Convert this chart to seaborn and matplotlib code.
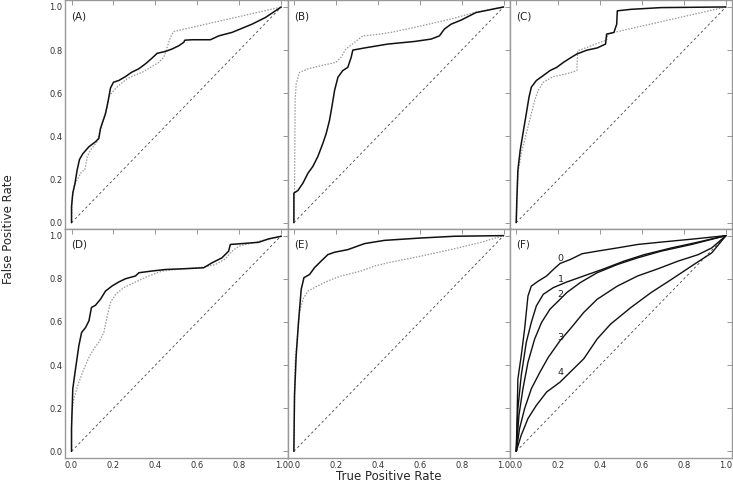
import numpy as np
import pandas as pd
import seaborn as sns
import matplotlib.pyplot as plt

# ---- curve data (x = TPR axis, y = FPR axis) ----
a_black_x = [0, 0, 0.006, 0.016, 0.027, 0.038, 0.054, 0.083, 0.114, 0.13, 0.138, 0.146, 0.162, 0.175, 0.186,
             0.2, 0.225, 0.257, 0.286, 0.32, 0.352, 0.384, 0.408, 0.448, 0.479, 0.511, 0.535, 0.54, 0.575,
             0.662, 0.702, 0.765, 0.86, 0.924, 1.0]
a_black_y = [0, 0.075, 0.137, 0.18, 0.245, 0.293, 0.32, 0.352, 0.375, 0.39, 0.436, 0.46, 0.505, 0.567, 0.625,
             0.651, 0.659, 0.677, 0.697, 0.713, 0.736, 0.763, 0.785, 0.794, 0.805, 0.82, 0.836, 0.846, 0.848,
             0.848, 0.866, 0.882, 0.92, 0.951, 1.0]
a_gray_x = [0, 0.003, 0.011, 0.027, 0.048, 0.063, 0.075, 0.09, 0.122, 0.146, 0.17, 0.178, 0.194, 0.225, 0.265,
            0.297, 0.337, 0.376, 0.416, 0.44, 0.456, 0.471, 0.487, 1.0]
a_gray_y = [0, 0.106, 0.167, 0.198, 0.237, 0.244, 0.306, 0.336, 0.375, 0.46, 0.536, 0.582, 0.605, 0.636, 0.667,
            0.682, 0.697, 0.72, 0.743, 0.767, 0.813, 0.859, 0.886, 1.0]

b_black_x = [0, 0, 0.019, 0.043, 0.067, 0.09, 0.114, 0.138, 0.154, 0.17, 0.181, 0.194, 0.21, 0.233, 0.257,
             0.273, 0.281, 0.337, 0.448, 0.575, 0.654, 0.694, 0.717, 0.749, 0.797, 0.868, 0.924, 1.0]
b_black_y = [0, 0.137, 0.149, 0.183, 0.229, 0.26, 0.306, 0.367, 0.413, 0.475, 0.536, 0.613, 0.674, 0.705, 0.72,
             0.766, 0.8, 0.81, 0.828, 0.84, 0.851, 0.866, 0.897, 0.92, 0.939, 0.974, 0.985, 1.0]
b_gray_x = [0, 0.003, 0.006, 0.011, 0.027, 0.067, 0.13, 0.2, 0.225, 0.248, 0.289, 0.329, 0.384, 0.463, 0.606,
            0.765, 0.86, 1.0]
b_gray_y = [0, 0.137, 0.567, 0.644, 0.697, 0.713, 0.728, 0.743, 0.767, 0.805, 0.836, 0.866, 0.871, 0.882, 0.912,
            0.948, 0.974, 1.0]

c_black_x = [0, 0.003, 0.008, 0.019, 0.032, 0.048, 0.061, 0.072, 0.096, 0.129, 0.161, 0.193, 0.225, 0.257,
             0.289, 0.338, 0.386, 0.426, 0.431, 0.466, 0.479, 0.482, 0.547, 0.691, 1.0]
c_black_y = [0, 0.106, 0.244, 0.336, 0.413, 0.505, 0.582, 0.628, 0.659, 0.682, 0.705, 0.72, 0.743, 0.763,
             0.782, 0.8, 0.81, 0.828, 0.874, 0.882, 0.92, 0.982, 0.989, 0.997, 1.0]
c_gray_x = [0, 0.008, 0.024, 0.04, 0.056, 0.072, 0.088, 0.105, 0.129, 0.177, 0.241, 0.289, 0.293, 0.338, 0.386,
            0.431, 0.437, 0.466, 1.0]
c_gray_y = [0, 0.229, 0.321, 0.383, 0.444, 0.505, 0.567, 0.613, 0.651, 0.677, 0.69, 0.705, 0.797, 0.813, 0.831,
            0.846, 0.874, 0.882, 1.0]

d_black_x = [0, 0, 0.006, 0.019, 0.035, 0.048, 0.067, 0.083, 0.095, 0.114, 0.138, 0.162, 0.194, 0.225, 0.257,
             0.305, 0.321, 0.384, 0.448, 0.527, 0.63, 0.67, 0.717, 0.749, 0.757, 0.813, 0.892, 0.94, 1.0]
d_black_y = [0, 0.106, 0.29, 0.382, 0.49, 0.551, 0.574, 0.605, 0.667, 0.677, 0.705, 0.743, 0.767, 0.785, 0.8,
             0.813, 0.828, 0.836, 0.843, 0.846, 0.851, 0.874, 0.897, 0.928, 0.959, 0.963, 0.969, 0.985, 0.997]
d_gray_x = [0, 0, 0.011, 0.035, 0.059, 0.083, 0.106, 0.13, 0.154, 0.17, 0.186, 0.21, 0.249, 0.305, 0.368,
            0.432, 0.527, 0.63, 0.686, 0.733, 0.765, 0.797, 0.86, 1.0]
d_gray_y = [0, 0.167, 0.244, 0.321, 0.382, 0.436, 0.475, 0.505, 0.551, 0.628, 0.69, 0.728, 0.759, 0.785, 0.813,
            0.836, 0.846, 0.854, 0.866, 0.892, 0.928, 0.951, 0.966, 0.997]

e_black_x = [0, 0.003, 0.011, 0.022, 0.035, 0.048, 0.075, 0.098, 0.13, 0.162, 0.194, 0.257, 0.337, 0.432,
             0.606, 0.765, 1.0]
e_black_y = [0, 0.26, 0.444, 0.598, 0.751, 0.805, 0.82, 0.851, 0.882, 0.912, 0.923, 0.935, 0.963, 0.978,
             0.989, 0.997, 1.0]
e_gray_x = [0, 0.006, 0.027, 0.043, 0.067, 0.114, 0.162, 0.225, 0.321, 0.384, 0.448, 0.606, 0.765, 0.892, 1.0]
e_gray_y = [0, 0.413, 0.644, 0.705, 0.743, 0.767, 0.79, 0.813, 0.836, 0.859, 0.874, 0.905, 0.939, 0.969, 1.0]

f0_x = [0, 0.003, 0.008, 0.024, 0.04, 0.056, 0.072, 0.105, 0.145, 0.177, 0.209, 0.257, 0.314, 0.386, 0.482,
        0.579, 0.691, 0.852, 1.0]
f0_y = [0, 0.106, 0.336, 0.444, 0.567, 0.72, 0.766, 0.789, 0.813, 0.843, 0.871, 0.889, 0.916, 0.928, 0.943,
        0.959, 0.97, 0.985, 1.0]
f1_x = [0, 0.008, 0.024, 0.048, 0.072, 0.096, 0.129, 0.177, 0.241, 0.322, 0.418, 0.514, 0.611, 0.74, 0.868, 1.0]
f1_y = [0, 0.198, 0.352, 0.505, 0.598, 0.674, 0.728, 0.759, 0.785, 0.813, 0.846, 0.882, 0.912, 0.943, 0.97, 1.0]
f2_x = [0, 0.013, 0.032, 0.056, 0.088, 0.121, 0.161, 0.201, 0.241, 0.305, 0.386, 0.482, 0.579, 0.691, 0.836, 1.0]
f2_y = [0, 0.167, 0.29, 0.413, 0.521, 0.598, 0.659, 0.697, 0.736, 0.782, 0.828, 0.866, 0.897, 0.928, 0.959, 1.0]
f3_x = [0, 0.016, 0.04, 0.072, 0.113, 0.153, 0.209, 0.257, 0.322, 0.386, 0.482, 0.579, 0.675, 0.772, 0.868,
        0.932, 1.0]
f3_y = [0, 0.106, 0.198, 0.29, 0.367, 0.436, 0.513, 0.567, 0.644, 0.705, 0.766, 0.813, 0.846, 0.882, 0.912,
        0.943, 1.0]
f4_x = [0, 0.024, 0.056, 0.096, 0.145, 0.209, 0.257, 0.322, 0.386, 0.45, 0.547, 0.643, 0.74, 0.836, 0.932, 1.0]
f4_y = [0, 0.075, 0.152, 0.213, 0.275, 0.321, 0.367, 0.429, 0.521, 0.59, 0.667, 0.736, 0.797, 0.859, 0.92, 1.0]

f_labels = ['0', '1', '2', '3', '4']
f_label_x = [0.212, 0.212, 0.212, 0.212, 0.212]
f_label_y = [0.892, 0.797, 0.728, 0.528, 0.367]

panel_names = ['(A)', '(B)', '(C)', '(D)', '(E)', '(F)']
ticks = [0.0, 0.2, 0.4, 0.6, 0.8, 1.0]
diag = [0.0, 1.0]


def line(ax, x, y, **kw):
    df = pd.DataFrame({'x': x, 'y': y})
    sns.lineplot(data=df, x='x', y='y', ax=ax, sort=False, estimator=None, **kw)


sns.set_style('white')
plt.rcParams['font.family'] = ['DejaVu Sans']

fig, axes = plt.subplots(2, 3, figsize=(7.33, 4.86), dpi=100, sharex=True, sharey=True)
fig.subplots_adjust(left=0.089, right=0.999, top=0.999, bottom=0.058, wspace=0, hspace=0)

pairs = [(a_black_x, a_black_y, a_gray_x, a_gray_y),
         (b_black_x, b_black_y, b_gray_x, b_gray_y),
         (c_black_x, c_black_y, c_gray_x, c_gray_y),
         (d_black_x, d_black_y, d_gray_x, d_gray_y),
         (e_black_x, e_black_y, e_gray_x, e_gray_y)]

for i, ax in enumerate(axes.flat):
    line(ax, diag, diag, color='#444444', lw=0.6, dashes=(3, 3))
    if i < 5:
        bx, by, gx, gy = pairs[i]
        line(ax, gx, gy, color='#999999', lw=0.9, dashes=(1.2, 1.2))
        line(ax, bx, by, color='#111111', lw=1.1)
    else:
        for fx, fy in [(f0_x, f0_y), (f1_x, f1_y), (f2_x, f2_y), (f3_x, f3_y), (f4_x, f4_y)]:
            line(ax, fx, fy, color='#111111', lw=1.0)
        for lab, lx, ly in zip(f_labels, f_label_x, f_label_y):
            ax.text(lx, ly, lab, fontsize=6.8, ha='center', va='center', color='#222222')
    ax.text(0.0, 0.958, panel_names[i], fontsize=7.5, va='center', ha='left', color='#222222')
    ax.set_xlim(-0.03, 1.03)
    ax.set_ylim(-0.03, 1.03)
    ax.set_xticks(ticks)
    ax.set_yticks(ticks)
    ax.set_xlabel('')
    ax.set_ylabel('')
    ax.tick_params(direction='in', length=3.5, width=0.6, color='#888888', labelsize=6,
                   labelcolor='#333333', top=True, right=True, pad=2)
    for sp in ax.spines.values():
        sp.set_color('#999999')
        sp.set_linewidth(1.0)

fig.text(0.531, 0.019, 'True Positive Rate', ha='center', va='center', fontsize=8.5)
fig.text(0.011, 0.529, 'False Positive Rate', ha='center', va='center', rotation=90, fontsize=8.5)

fig.savefig('out.png', dpi=100)
